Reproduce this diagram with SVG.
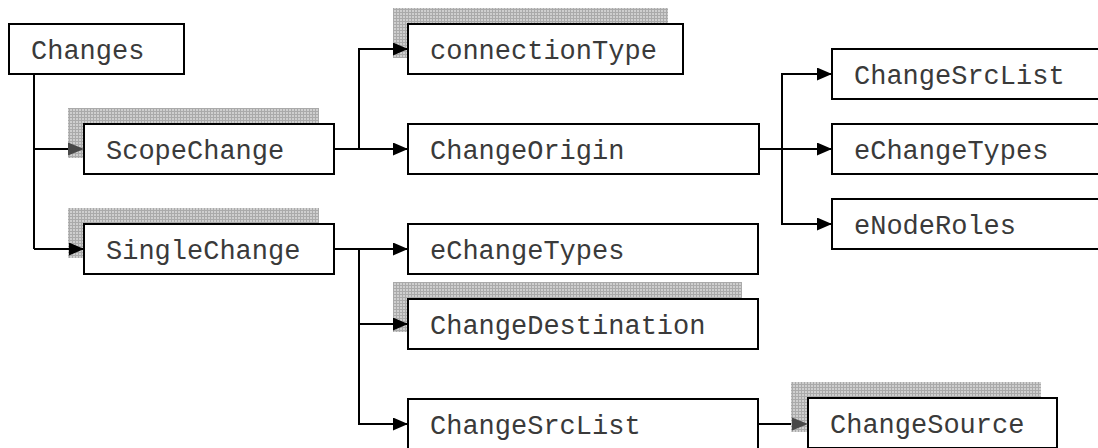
<svg xmlns="http://www.w3.org/2000/svg" width="1098" height="448" viewBox="0 0 1098 448">
<defs>
<pattern id="grid" width="3" height="3" patternUnits="userSpaceOnUse">
<rect width="3" height="3" fill="#cfcfcf"/>
<path d="M0 0.5H3M0.5 0V3" stroke="#aaaaaa" stroke-width="1"/>
</pattern>
<marker id="arr" markerWidth="15" markerHeight="13" refX="15" refY="6.5" orient="auto" markerUnits="userSpaceOnUse">
<path d="M0 0L15 6.5L0 13Z" fill="#000"/>
</marker>
<marker id="arrg" markerWidth="15" markerHeight="13" refX="15" refY="6.5" orient="auto" markerUnits="userSpaceOnUse">
<path d="M0 0L15 6.5L0 13Z" fill="#484848"/>
</marker>
</defs>
<style>
.box{fill:#fff;stroke:#000;stroke-width:2}
.sh{fill:url(#grid)}
.lbl{font-family:"Liberation Mono","Courier New",monospace;font-size:27px;fill:#3a3a3a}
.c{fill:none;stroke:#000;stroke-width:2}
</style>
<rect width="1098" height="448" fill="#fff"/>
<g id="n-changes">
<rect class="box" x="9" y="24" width="175" height="50"/>
<text class="lbl" x="31" y="59">Changes</text>
</g>
<g id="n-scopechange">
<rect class="sh" x="68" y="108" width="251" height="50"/>
<rect class="box" x="84" y="124" width="250" height="50"/>
<text class="lbl" x="106" y="159">ScopeChange</text>
</g>
<g id="n-connectiontype">
<rect class="sh" x="393" y="8" width="275" height="50"/>
<rect class="box" x="408" y="24" width="275" height="50"/>
<text class="lbl" x="430" y="59">connectionType</text>
</g>
<g id="n-changeorigin">
<rect class="box" x="408" y="124" width="351" height="50"/>
<text class="lbl" x="430" y="159">ChangeOrigin</text>
</g>
<g id="n-changesrclist-r">
<rect class="box" x="832" y="49" width="280" height="50"/>
<text class="lbl" x="854" y="84">ChangeSrcList</text>
</g>
<g id="n-echangetypes-r">
<rect class="box" x="832" y="124" width="280" height="50"/>
<text class="lbl" x="854" y="159">eChangeTypes</text>
</g>
<g id="n-enoderoles">
<rect class="box" x="832" y="199" width="280" height="50"/>
<text class="lbl" x="854" y="234">eNodeRoles</text>
</g>
<g id="n-singlechange">
<rect class="sh" x="68" y="208" width="251" height="50"/>
<rect class="box" x="84" y="224" width="250" height="50"/>
<text class="lbl" x="106" y="259">SingleChange</text>
</g>
<g id="n-echangetypes">
<rect class="box" x="408" y="224" width="350" height="50"/>
<text class="lbl" x="430" y="259">eChangeTypes</text>
</g>
<g id="n-changedestination">
<rect class="sh" x="393" y="282" width="349" height="50"/>
<rect class="box" x="408" y="299" width="350" height="50"/>
<text class="lbl" x="430" y="334">ChangeDestination</text>
</g>
<g id="n-changesrclist">
<rect class="box" x="408" y="399" width="350" height="50"/>
<text class="lbl" x="430" y="434">ChangeSrcList</text>
</g>
<g id="n-changesource">
<rect class="sh" x="791" y="382" width="250" height="50"/>
<rect class="box" x="808" y="398" width="249" height="50"/>
<text class="lbl" x="830" y="433">ChangeSource</text>
</g>
<g id="connectors">
<path class="c" d="M34 74V249"/>
<path class="c" d="M34 149H68"/>
<path d="M68 142.5L84 149L68 155.5Z" fill="#484848"/>
<path class="c" d="M34 249H84" marker-end="url(#arr)"/>
<path class="c" d="M334 149H408" marker-end="url(#arr)"/>
<path class="c" d="M359 149V49H408" marker-end="url(#arr)"/>
<path class="c" d="M759 149H832" marker-end="url(#arr)"/>
<path class="c" d="M782 149V74H832" marker-end="url(#arr)"/>
<path class="c" d="M782 149V224H832" marker-end="url(#arr)"/>
<path class="c" d="M334 249H408" marker-end="url(#arr)"/>
<path class="c" d="M359 249V324H408" marker-end="url(#arr)"/>
<path class="c" d="M359 324V424H408" marker-end="url(#arr)"/>
<path class="c" d="M758 424H791"/>
<path d="M792 417.5L808 424L792 430.5Z" fill="#484848"/>
</g>
</svg>
